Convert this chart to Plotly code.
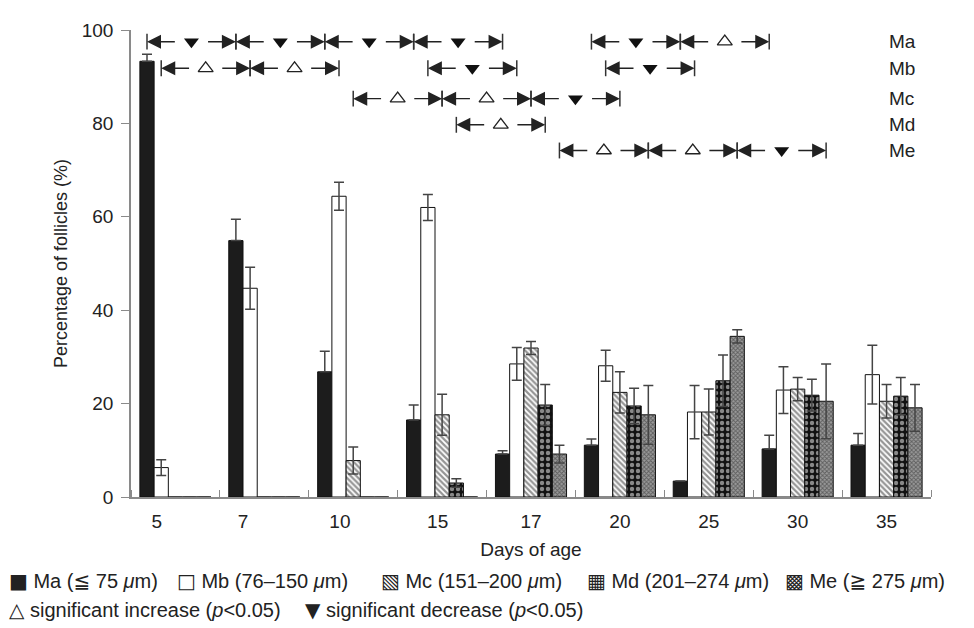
import plotly.graph_objects as go

# ---------------- data ----------------
days = ['5', '7', '10', '15', '17', '20', '25', '30', '35']
classes = ['Ma', 'Mb', 'Mc', 'Md', 'Me']

ma = [93.3, 54.9, 26.8, 16.5, 9.2, 11.1, 3.4, 10.3, 11.1]
ma_err = [1.5, 4.6, 4.4, 3.2, 0.7, 1.3, 0.0, 2.9, 2.5]
mb = [6.3, 44.7, 64.4, 62.0, 28.5, 28.1, 18.2, 22.9, 26.2]
mb_err = [1.7, 4.5, 3.0, 2.8, 3.5, 3.3, 5.7, 5.0, 6.3]
mc = [0, 0, 7.8, 17.6, 31.9, 22.4, 18.2, 23.1, 20.5]
mc_err = [0, 0, 2.9, 4.4, 1.4, 4.4, 4.9, 2.5, 3.6]
md = [0, 0, 0, 3.0, 19.7, 19.5, 24.9, 21.8, 21.6]
md_err = [0, 0, 0, 0.9, 4.4, 3.8, 5.5, 3.4, 4.0]
me = [0, 0, 0, 0, 9.2, 17.6, 34.4, 20.5, 19.1]
me_err = [0, 0, 0, 0, 1.9, 6.3, 1.4, 8.0, 5.0]

legend_labels = ['Ma (≦ 75 <i>μ</i>m)', 'Mb (76–150 <i>μ</i>m)', 'Mc (151–200 <i>μ</i>m)',
                 'Md (201–274 <i>μ</i>m)', 'Me (≧ 275 <i>μ</i>m)']
legend_glyphs = ['■', '□', '▧', '▦', '▩']

# significant changes between consecutive ages: (from day, to day, kind)
sig_ma = [('5', '7', 'dec'), ('7', '10', 'dec'), ('10', '15', 'dec'), ('15', '17', 'dec'),
          ('20', '25', 'dec'), ('25', '30', 'inc')]
sig_mb = [('5', '7', 'inc'), ('7', '10', 'inc'), ('15', '17', 'dec'), ('20', '25', 'dec')]
sig_mc = [('10', '15', 'inc'), ('15', '17', 'inc'), ('17', '20', 'dec')]
sig_md = [('15', '17', 'inc')]
sig_me = [('17', '20', 'inc'), ('20', '25', 'inc'), ('25', '30', 'dec')]
sig_all = {'Ma': sig_ma, 'Mb': sig_mb, 'Mc': sig_mc, 'Md': sig_md, 'Me': sig_me}

# ---------------- styling ----------------
FONT = 'Liberation Sans, Arial, DejaVu Sans, Noto Sans CJK JP'
TXT = '#222222'
AX = '#8a8a8a'
idx = list(range(len(days)))
values = [ma, mb, mc, md, me]
errors = [ma_err, mb_err, mc_err, md_err, me_err]

styles = [
    dict(color='#1c1c1c'),
    dict(color='white'),
    dict(color='white', pattern=dict(shape='\\', fgcolor='#2a2a2a', bgcolor='white', size=4, solidity=0.55)),
    dict(color='black', pattern=dict(shape='.', fgcolor='white', bgcolor='#111111', size=6, solidity=0.42)),
    dict(color='#555555', pattern=dict(shape='x', fgcolor='#222222', bgcolor='#9a9a9a', size=3, solidity=0.5)),
]

fig = go.Figure()
for k, (name, vals, errs, st) in enumerate(zip(classes, values, errors, styles)):
    marker = dict(st)
    marker['line'] = dict(color='#111111', width=1)
    arr = [e if e > 0 else None for e in errs]
    err = dict(type='data', array=arr, visible=True, color='#444444', thickness=1.5, width=5)
    if k == 0:  # lower half hidden inside the black bars
        err.update(symmetric=False, arrayminus=[0 if e is not None else None for e in arr])
    fig.add_trace(go.Bar(x=idx, y=vals, name=name, marker=marker, error_y=err))

GAP = 0.2
bw = (1 - GAP) / len(classes)
row_y = {'Ma': 97.5, 'Mb': 91.8, 'Mc': 85.3, 'Md': 79.7, 'Me': 74.2}
ARM = 0.33
shapes = []
annotations = []
tri_x = {'inc': [], 'dec': []}
tri_y = {'inc': [], 'dec': []}
for k, cls in enumerate(classes):
    off = (k - (len(classes) - 1) / 2) * bw
    yv = row_y[cls]
    for f, t, kind in sig_all[cls]:
        xl = days.index(f) + off
        xr = days.index(t) + off
        for xv in (xl, xr):
            shapes.append(dict(type='line', xref='x', yref='y', x0=xv, x1=xv, y0=yv - 1.7, y1=yv + 1.7,
                               line=dict(color='#333333', width=1.5)))
        for head, tail in ((xl, xl + ARM), (xr, xr - ARM)):
            annotations.append(dict(x=head, y=yv, ax=tail, ay=yv, xref='x', yref='y', axref='x', ayref='y',
                                    text='', showarrow=True, arrowhead=2, arrowsize=2.0, arrowwidth=1.4,
                                    arrowcolor='#222222', standoff=0))
        tri_x[kind].append((xl + xr) / 2)
        tri_y[kind].append(yv)
    annotations.append(dict(x=0.945, y=yv, xref='paper', yref='y', text=cls, showarrow=False,
                            xanchor='left', yanchor='middle', font=dict(size=19, color=TXT, family=FONT)))

fig.add_trace(go.Scatter(x=tri_x['dec'], y=tri_y['dec'], mode='markers', cliponaxis=False,
                         marker=dict(symbol='triangle-down', size=13, color='#111111')))
fig.add_trace(go.Scatter(x=tri_x['inc'], y=tri_y['inc'], mode='markers', cliponaxis=False,
                         marker=dict(symbol='triangle-up-open', size=13, color='#222222', line=dict(width=1.3))))


def glyph(g):
    return '<span style="font-family:DejaVu Sans;font-size:20px">' + g + '</span>'


# bottom legend text
LF = dict(size=20, color=TXT, family=FONT)
leg_x = [-0.155, 0.055, 0.31, 0.5675, 0.815]
for gx, g, lab in zip(leg_x, legend_glyphs, legend_labels):
    annotations.append(dict(x=gx, y=-0.180, xref='paper', yref='paper', text=glyph(g) + '\u00a0' + lab,
                            showarrow=False, xanchor='left', yanchor='middle', font=LF))
annotations.append(dict(x=-0.155, y=-0.241, xref='paper', yref='paper',
                        text='△\u00a0significant increase (<i>p</i>&lt;0.05)', showarrow=False,
                        xanchor='left', yanchor='middle', font=LF))
annotations.append(dict(x=0.215, y=-0.241, xref='paper', yref='paper',
                        text=glyph('▼') + '\u00a0significant decrease (<i>p</i>&lt;0.05)', showarrow=False,
                        xanchor='left', yanchor='middle', font=LF))

label_shift = [-0.21, -0.24, -0.15, -0.05, 0, 0, 0, 0, 0]

# the page body adds an 8 px offset, so margins are reduced accordingly
fig.update_layout(
    width=974, height=628,
    margin=dict(l=123, r=51, t=12, b=139),
    paper_bgcolor='white', plot_bgcolor='white',
    barmode='group', bargap=GAP, bargroupgap=0,
    showlegend=False,
    font=dict(family=FONT, size=19, color=TXT),
    shapes=shapes, annotations=annotations,
    xaxis=dict(range=[-0.5, len(days) - 0.5], tickmode='array',
               tickvals=[i + s for i, s in zip(idx, label_shift)], ticktext=days,
               ticks='outside', ticklen=6, tickcolor='rgba(0,0,0,0)',
               minor=dict(tickmode='array', tickvals=[i - 0.5 for i in range(len(days) + 1)],
                          ticks='inside', ticklen=7, tickcolor=AX, tickwidth=1.3),
               showline=True, linecolor=AX, linewidth=1.5, showgrid=False, zeroline=False,
               tickfont=dict(size=19, color=TXT),
               title=dict(text='Days of age', standoff=12, font=dict(size=19, color=TXT))),
    yaxis=dict(range=[0, 100], tickmode='array', tickvals=[0, 20, 40, 60, 80, 100],
               ticks='outside', ticklen=8, tickcolor=AX, tickwidth=1.3, ticklabelstandoff=4,
               showline=True, linecolor=AX, linewidth=1.5, showgrid=False, zeroline=False,
               tickfont=dict(size=19, color=TXT),
               title=dict(text='Percentage of follicles (%)', standoff=9, font=dict(size=18, color=TXT))),
)

fig.write_html('out.html')
